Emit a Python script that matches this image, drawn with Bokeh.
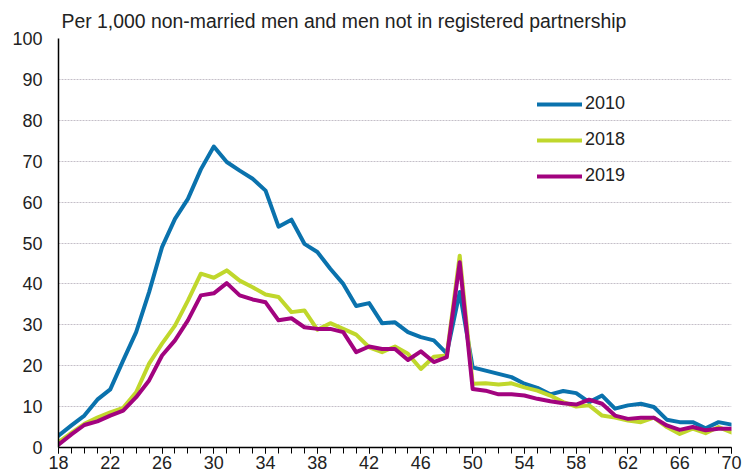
from bokeh.plotting import figure
from bokeh.models import Range1d, FixedTicker, Legend, LegendItem
from bokeh.embed import file_html
from bokeh.resources import INLINE

ages = list(range(18, 71))

rate_2010 = [2.9, 5.4, 7.8, 11.7, 14.2, 21.3, 28.2, 38.0, 49.0, 55.9, 60.8, 68.0, 73.6, 69.8,
             67.7, 65.7, 62.8, 54.0, 55.7, 49.8, 47.8, 43.7, 40.0, 34.6, 35.3, 30.4, 30.6,
             28.2, 27.0, 26.2, 23.0, 38.0, 19.6, 18.8, 18.0, 17.2, 15.6, 14.6, 13.0, 13.8,
             13.3, 11.1, 12.7, 9.5, 10.3, 10.7, 9.9, 6.8, 6.2, 6.2, 4.7, 6.2, 5.6]

rate_2018 = [1.3, 3.6, 5.8, 7.3, 8.6, 9.7, 13.5, 20.5, 25.4, 29.8, 35.9, 42.5, 41.5, 43.3,
             40.8, 39.2, 37.4, 36.8, 33.1, 33.5, 28.8, 30.4, 29.0, 27.6, 24.5, 23.3, 24.7,
             22.9, 19.2, 22.2, 22.5, 46.9, 15.6, 15.7, 15.4, 15.7, 14.7, 13.9, 12.7, 11.1,
             10.0, 10.3, 7.8, 7.3, 6.6, 6.2, 7.3, 5.0, 3.3, 4.6, 3.5, 5.0, 3.7]

rate_2019 = [0.7, 3.2, 5.5, 6.4, 7.8, 9.0, 12.3, 16.4, 22.5, 26.2, 31.1, 37.2, 37.7, 40.2,
             37.2, 36.2, 35.5, 31.1, 31.6, 29.4, 29.0, 29.0, 28.2, 23.3, 24.7, 24.1, 24.1,
             21.4, 23.5, 20.9, 22.1, 45.3, 14.3, 13.9, 13.0, 13.0, 12.7, 11.9, 11.3, 10.8,
             10.5, 11.7, 10.7, 7.8, 7.0, 7.3, 7.3, 5.4, 4.3, 5.0, 4.2, 4.6, 4.6]

series_names = ["2010", "2018", "2019"]
series_values = [rate_2010, rate_2018, rate_2019]
series_colors = ["#0a72ad", "#c0d72c", "#a2037f"]

x_major = list(range(18, 71, 4))
x_minor = list(range(18, 71))
y_major = list(range(0, 101, 10))

FONT = "Liberation Sans"
TXT = "#222222"

p = figure(width=744, height=476, output_backend="svg", toolbar_location=None,
           x_range=Range1d(18, 70), y_range=Range1d(0, 100),
           min_border_left=58, min_border_right=13, min_border_top=38, min_border_bottom=29)
p.outline_line_color = None
p.background_fill_color = "white"

p.title.text = "Per 1,000 non-married men and men not in registered partnership"
p.title.text_font = FONT
p.title.text_font_size = "19.4px"
p.title.text_font_style = "normal"
p.title.text_color = TXT
p.title.align = "left"
p.title.offset = 3
p.title.standoff = 13

renderers = []
for name, vals, col in zip(series_names, series_values, series_colors):
    r = p.line(ages, vals, line_color=col, line_width=4, line_join="round", line_cap="round")
    renderers.append((name, r))

legend = Legend(items=[LegendItem(label=n, renderers=[r]) for n, r in renderers],
                location=(479, 261), orientation="vertical",
                background_fill_alpha=0, border_line_color=None,
                padding=0, margin=0, spacing=15, glyph_width=45, glyph_height=20,
                label_height=20, label_standoff=3,
                label_text_font=FONT, label_text_font_size="18px", label_text_color=TXT)
p.add_layout(legend)

# x axis
xa = p.xaxis[0]
xa.ticker = FixedTicker(ticks=x_major, minor_ticks=x_minor)
xa.axis_line_color = "black"
xa.axis_line_width = 1.5
xa.major_tick_line_color = "black"
xa.minor_tick_line_color = "black"
xa.major_tick_in = 0
xa.major_tick_out = 6
xa.minor_tick_in = 0
xa.minor_tick_out = 6
xa.major_label_standoff = 2
xa.major_label_text_font = FONT
xa.major_label_text_font_size = "18px"
xa.major_label_text_color = TXT

# y axis
ya = p.yaxis[0]
ya.ticker = FixedTicker(ticks=y_major)
ya.axis_line_color = "black"
ya.axis_line_width = 1.5
ya.major_tick_line_color = None
ya.minor_tick_line_color = None
ya.major_tick_in = 0
ya.major_tick_out = 0
ya.major_label_standoff = 16
ya.major_label_text_font = FONT
ya.major_label_text_font_size = "18px"
ya.major_label_text_color = TXT

p.xgrid.grid_line_color = None
p.ygrid.ticker = FixedTicker(ticks=y_major)
p.ygrid.grid_line_color = "#c4bfc8"
p.ygrid.grid_line_dash = "2 1"
p.ygrid.grid_line_width = 1

open("out.html", "w").write(file_html(p, INLINE))
